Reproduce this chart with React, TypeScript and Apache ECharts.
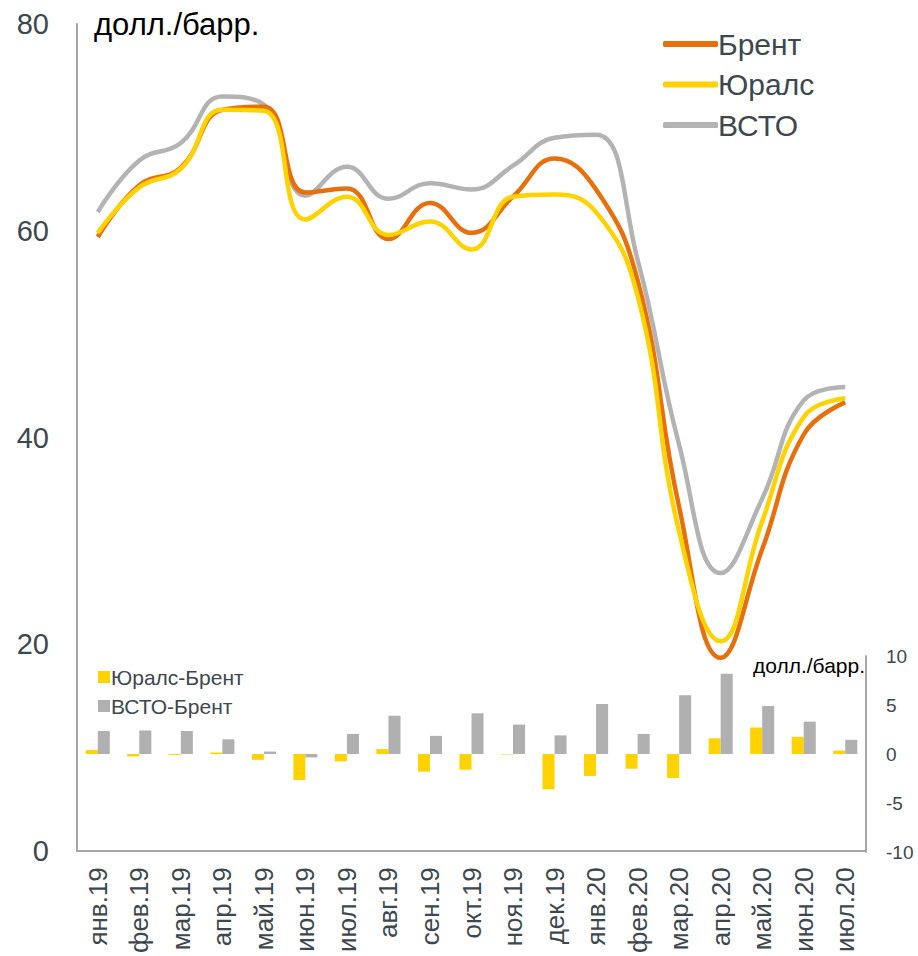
import React, { useEffect, useRef } from "react";
import * as echarts from "echarts";

const categories = ["янв.19","фев.19","мар.19","апр.19","май.19","июн.19","июл.19","авг.19","сен.19","окт.19","ноя.19","дек.19","янв.20","фев.20","мар.20","апр.20","май.20","июн.20","июл.20"];
const brent = [59.4, 64.4, 66.1, 71.7, 72.0, 63.7, 64.1, 59.2, 62.7, 59.8, 63.3, 67.0, 64.0, 55.2, 33.3, 18.7, 29.2, 40.3, 43.4];
const urals = [59.8, 64.2, 66.0, 71.7, 71.6, 61.1, 63.3, 59.6, 60.9, 58.2, 63.3, 63.5, 61.8, 53.7, 30.9, 20.3, 31.9, 42.0, 43.8];
const vsto = [61.8, 66.8, 68.5, 73.0, 72.2, 63.4, 66.2, 63.1, 64.6, 64.0, 66.3, 69.0, 69.3, 57.2, 39.3, 26.9, 34.1, 43.6, 44.9];
const uralsDiff = [0.4, -0.25, -0.1, 0.15, -0.6, -2.65, -0.75, 0.5, -1.8, -1.6, -0.05, -3.6, -2.25, -1.5, -2.45, 1.6, 2.7, 1.75, 0.35];
const vstoDiff = [2.35, 2.4, 2.35, 1.5, 0.25, -0.35, 2.05, 3.9, 1.85, 4.15, 3.0, 1.9, 5.1, 2.05, 6.0, 8.2, 4.9, 3.3, 1.45];
const leftTicks = [0, 20, 40, 60, 80];
const rightTicks = [-10, -5, 0, 5, 10];

const FONT = "'Liberation Sans', Arial, sans-serif";
const TXT = "#3d474e";
const AXIS = "#a6a6a6";
const C_BRENT = "#e5700d";
const C_URALS = "#ffd200";
const C_VSTO = "#b3b3b3";
const C_BAR_GREY = "#b0b0b0";

export default function App() {
  const ref = useRef<HTMLDivElement>(null);
  useEffect(() => {
    const chart = echarts.init(ref.current!, null, { renderer: "svg" });
    const option: any = {
      animation: false,
      textStyle: { fontFamily: FONT },
      grid: [
        { left: 77, right: 52, top: 24, bottom: 104 },
        { left: 77, right: 52, top: 656, bottom: 104 },
      ],
      xAxis: [
        {
          type: "category", gridIndex: 0, data: categories, boundaryGap: true,
          axisLine: { show: true, lineStyle: { color: AXIS, width: 2 } },
          axisTick: { show: false },
          axisLabel: { rotate: 90, fontSize: 26, color: TXT, margin: 16, fontFamily: FONT, interval: 0 },
        },
        {
          type: "category", gridIndex: 1, data: categories, boundaryGap: true,
          axisLine: { show: false }, axisTick: { show: false }, axisLabel: { show: false },
        },
      ],
      yAxis: [
        {
          type: "value", gridIndex: 0, min: leftTicks[0], max: leftTicks[leftTicks.length - 1], interval: 20,
          axisLine: { show: true, lineStyle: { color: AXIS, width: 2 } },
          axisTick: { show: false }, splitLine: { show: false },
          axisLabel: { fontSize: 29, color: TXT, margin: 28, fontFamily: FONT },
        },
        {
          type: "value", gridIndex: 1, position: "right", min: rightTicks[0], max: rightTicks[rightTicks.length - 1], interval: 5,
          axisLine: { show: true, lineStyle: { color: AXIS, width: 2 } },
          axisTick: { show: false }, splitLine: { show: false },
          axisLabel: { fontSize: 19, color: TXT, margin: 20, fontFamily: FONT },
        },
      ],
      legend: [
        {
          data: ["Брент", "Юралс", "ВСТО"],
          orient: "vertical", left: 658, top: 23,
          icon: "roundRect", itemWidth: 55, itemHeight: 6, itemGap: 8.5,
          textStyle: { fontSize: 30, color: TXT, fontFamily: FONT, lineHeight: 32, padding: [0, 0, 0, -5] },
        },
        {
          data: ["Юралс-Брент", "ВСТО-Брент"],
          orient: "vertical", left: 93, top: 661,
          icon: "rect", itemWidth: 12, itemHeight: 12, itemGap: 7,
          textStyle: { fontSize: 21, color: TXT, fontFamily: FONT, lineHeight: 22, padding: [0, 0, 0, -4] },
        },
      ],
      graphic: [
        { type: "text", left: 94, top: 9, style: { text: "долл./барр.", fontSize: 31, fill: "#000", fontFamily: FONT } },
        { type: "text", right: 53, top: 655, style: { text: "долл./барр.", fontSize: 21, fill: "#000", fontFamily: FONT } },
      ],
      series: [
        {
          name: "Юралс-Брент", type: "bar", xAxisIndex: 1, yAxisIndex: 1, data: uralsDiff,
          itemStyle: { color: C_URALS }, barGap: "0%", barCategoryGap: "42%", z: 1,
        },
        {
          name: "ВСТО-Брент", type: "bar", xAxisIndex: 1, yAxisIndex: 1, data: vstoDiff,
          itemStyle: { color: C_BAR_GREY }, barGap: "0%", barCategoryGap: "42%", z: 1,
        },
        {
          name: "ВСТО", type: "line", data: vsto, smooth: 0.45, symbol: "none",
          lineStyle: { color: C_VSTO, width: 4.5 }, itemStyle: { color: C_VSTO }, z: 3,
        },
        {
          name: "Брент", type: "line", data: brent, smooth: 0.45, symbol: "none",
          lineStyle: { color: C_BRENT, width: 4.5 }, itemStyle: { color: C_BRENT }, z: 4,
        },
        {
          name: "Юралс", type: "line", data: urals, smooth: 0.45, symbol: "none",
          lineStyle: { color: C_URALS, width: 4.5 }, itemStyle: { color: C_URALS }, z: 5,
        },
      ],
    };
    chart.setOption(option);
    return () => chart.dispose();
  }, []);
  return <div ref={ref} style={{ position: "fixed", left: 0, top: 0, width: 918, height: 956, background: "#fff" }} />;
}
